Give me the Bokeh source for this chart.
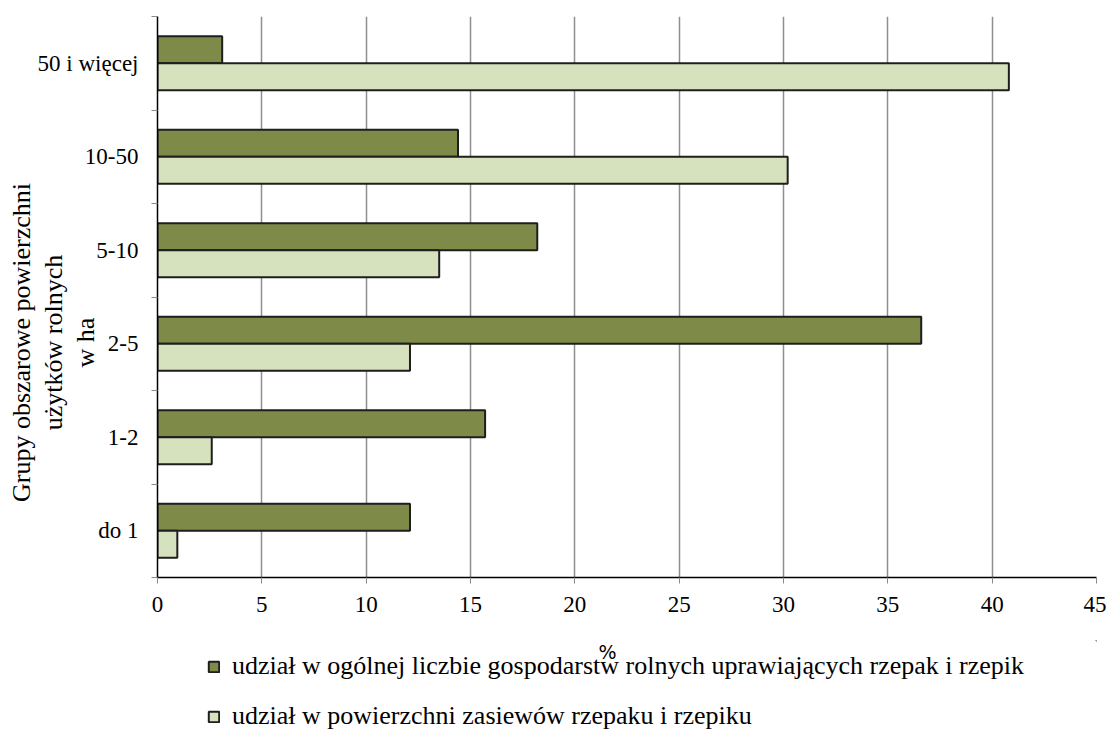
from bokeh.plotting import figure
from bokeh.models import (ColumnDataSource, FixedTicker, Label, Legend, LegendItem, LinearAxis)
from bokeh.layouts import column
from bokeh.transform import dodge
from bokeh.embed import file_html
from bokeh.resources import INLINE

categories = ["do 1", "1-2", "2-5", "5-10", "10-50", "50 i więcej"]
share_farms = [12.1, 15.7, 36.6, 18.2, 14.4, 3.1]
share_area = [0.95, 2.6, 12.1, 13.5, 30.2, 40.8]
x_ticks = [0, 5, 10, 15, 20, 25, 30, 35, 40, 45]
series_names = [
    "udział w ogólnej liczbie gospodarstw rolnych uprawiających rzepak i rzepik",
    "udział w powierzchni zasiewów rzepaku i rzepiku",
]
y_title_lines = ["Grupy obszarowe powierzchni", "użytków rolnych", "w ha"]
x_title = "%"

DARK = "#7E8B48"
LIGHT = "#D6E1BD"
EDGE = "#1E1E1E"
SERIF = "Liberation Serif"
W = 1106

pos = [i + 0.5 for i in range(len(categories))]
src = ColumnDataSource(dict(pos=pos, farms=share_farms, area=share_area, cat=categories))

p = figure(width=W, height=640, output_backend="svg", toolbar_location=None,
           x_range=(0, 45), y_range=(0, len(categories)),
           min_border_left=157, min_border_right=10, min_border_top=16, min_border_bottom=63)
p.outline_line_color = None
p.background_fill_color = "white"
p.border_fill_color = "white"

bh = 0.289
r1 = p.hbar(y=dodge("pos", bh / 2, range=p.y_range), left=0, right="farms", height=bh,
            source=src, fill_color=DARK, line_color=EDGE, line_width=2)
r2 = p.hbar(y=dodge("pos", -bh / 2, range=p.y_range), left=0, right="area", height=bh,
            source=src, fill_color=LIGHT, line_color=EDGE, line_width=2)

# x axis
p.xaxis.ticker = FixedTicker(ticks=x_ticks)
p.xaxis.axis_line_color = "black"
p.xaxis.axis_line_width = 1.5
p.xaxis.major_tick_line_color = "#8a8a8a"
p.xaxis.major_tick_out = 6
p.xaxis.major_tick_in = 0
p.xaxis.minor_tick_line_color = None
p.xaxis.major_label_text_font = SERIF
p.xaxis.major_label_text_font_size = "23px"
p.xaxis.major_label_text_color = "black"
p.xaxis.major_label_standoff = 13

# y axis
p.yaxis.ticker = FixedTicker(ticks=pos, minor_ticks=list(range(len(categories) + 1)))
p.yaxis.major_label_overrides = {pp: c for pp, c in zip(pos, categories)}
p.yaxis.axis_line_color = "black"
p.yaxis.axis_line_width = 1.5
p.yaxis.major_tick_line_color = None
p.yaxis.major_tick_out = 0
p.yaxis.major_tick_in = 0
p.yaxis.minor_tick_line_color = "#8a8a8a"
p.yaxis.minor_tick_out = 6
p.yaxis.minor_tick_in = 0
p.yaxis.major_label_text_font = SERIF
p.yaxis.major_label_text_font_size = "23px"
p.yaxis.major_label_text_color = "black"
p.yaxis.major_label_standoff = 13

p.ygrid.grid_line_color = None
p.xgrid.ticker = FixedTicker(ticks=x_ticks[1:])
p.xgrid.grid_line_color = "#8f8f8f"
p.xgrid.grid_line_width = 1.5

# y title: a tick-less axis carrying the three-line label; trailing no-break
# spaces move the centred block a little below the middle of the frame
pad = "\u00a0" * 14
title_axis = LinearAxis(axis_label="\n".join(line + pad for line in y_title_lines),
                        ticker=FixedTicker(ticks=[]), axis_line_color=None,
                        major_tick_out=0, major_tick_in=0, minor_tick_out=0, minor_tick_in=0,
                        major_label_standoff=0, axis_label_standoff=-65,
                        axis_label_text_font=SERIF, axis_label_text_font_size="26px",
                        axis_label_text_font_style="normal", axis_label_text_color="black",
                        axis_label_text_line_height=1.1, axis_label_text_align="center")
p.add_layout(title_axis, "left")

# lower strip (frame aligned with the chart's frame): x title and legend
q = figure(width=W, height=105, output_backend="svg", toolbar_location=None,
           x_range=(0, 1), y_range=(0, 1), x_axis_location=None, y_axis_location=None,
           min_border_left=0, min_border_right=0, min_border_top=0, min_border_bottom=0)
q.outline_line_color = None
q.xgrid.visible = False
q.ygrid.visible = False
# legend swatches (placed far outside the visible ranges of this strip)
d1 = q.hbar(y=[50], left=[50], right=[60], height=0.5, fill_color=DARK, line_color=EDGE, line_width=2)
d2 = q.hbar(y=[50], left=[50], right=[60], height=0.5, fill_color=LIGHT, line_color=EDGE, line_width=2)

q.add_layout(Label(x=450, y=94, x_units="screen", y_units="screen", text=x_title,
                   text_align="center", text_baseline="middle",
                   text_font="DejaVu Sans", text_font_size="19px", text_color="black"))

legend = Legend(items=[LegendItem(label=series_names[0], renderers=[d1]),
                       LegendItem(label=series_names[1], renderers=[d2])],
                location=(50, 14), orientation="vertical",
                glyph_width=13, glyph_height=13, label_height=30, spacing=20,
                label_standoff=12, padding=0, margin=0,
                border_line_color=None, background_fill_alpha=0,
                label_text_font=SERIF, label_text_font_size="26px",
                label_text_color="black", label_text_baseline="middle")
q.add_layout(legend, "center")

layout = column(p, q, spacing=0)
open("out.html", "w").write(file_html(layout, INLINE))
